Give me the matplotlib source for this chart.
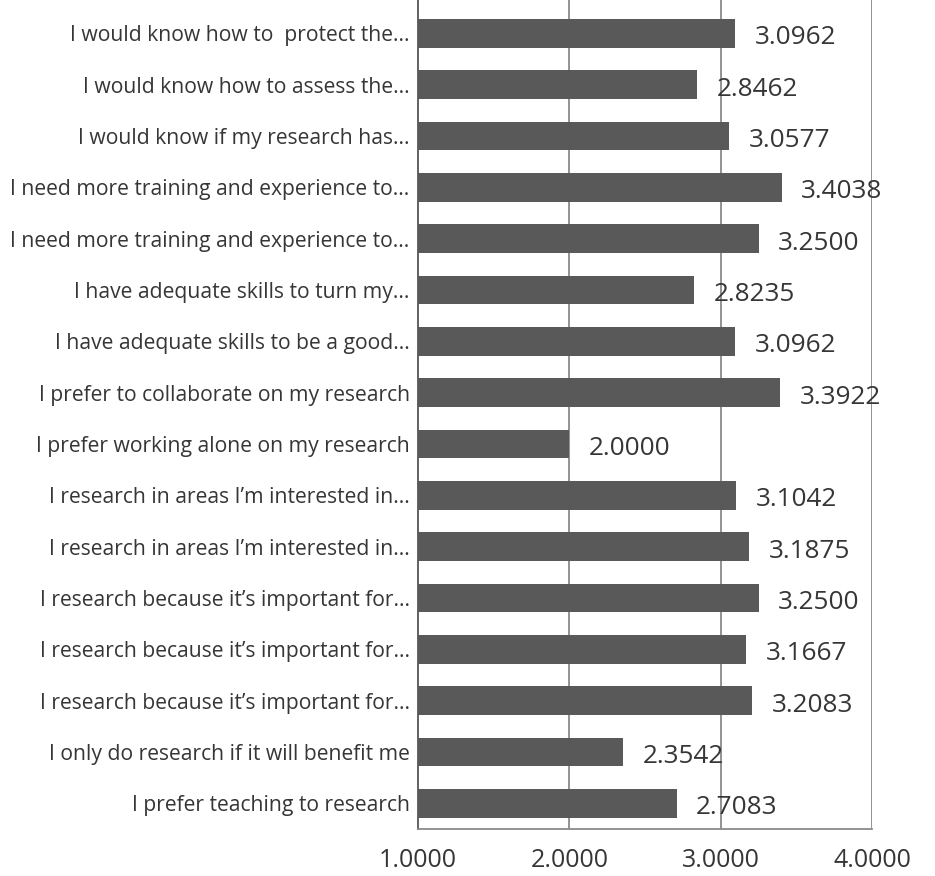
import matplotlib
matplotlib.use("Agg")
import matplotlib.pyplot as plt

categories = [
    "I would know how to  protect the...",
    "I would know how to assess the...",
    "I would know if my research has...",
    "I need more training and experience to...",
    "I need more training and experience to...",
    "I have adequate skills to turn my...",
    "I have adequate skills to be a good...",
    "I prefer to collaborate on my research",
    "I prefer working alone on my research",
    "I research in areas I\u2019m interested in...",
    "I research in areas I\u2019m interested in...",
    "I research because it\u2019s important for...",
    "I research because it\u2019s important for...",
    "I research because it\u2019s important for...",
    "I only do research if it will benefit me",
    "I prefer teaching to research",
]
values = [3.0962, 2.8462, 3.0577, 3.4038, 3.2500, 2.8235, 3.0962, 3.3922,
          2.0000, 3.1042, 3.1875, 3.2500, 3.1667, 3.2083, 2.3542, 2.7083]
x_ticks = [1.0, 2.0, 3.0, 4.0]

W, H = 935, 876
fig = plt.figure(figsize=(W / 100, H / 100), dpi=100)
ax = fig.add_axes([418 / W, 47 / H, (872 - 418) / W, 1 - 47 / H])

font = "Open Sans"
text_col = "#363636"
bar_col = "#595959"
grid_col = "#8a8a8a"

y = list(range(len(categories)))
ax.barh(y, [v - 1.0 for v in values], left=1.0, height=0.56,
        color=bar_col, zorder=3)

for yi, v in zip(y, values):
    ax.annotate(f"{v:.4f}", (v, yi), xytext=(14, -1), textcoords="offset points",
                va="center_baseline", ha="left", fontsize=18.8, family=font,
                color=text_col, zorder=4)

ax.set_xlim(1.0, 4.0)
ax.set_ylim(len(categories) - 0.5, -0.65)
ax.set_xticks(x_ticks)
ax.set_xticklabels([f"{t:.4f}" for t in x_ticks], fontsize=18, family=font,
                   color=text_col)
ax.set_yticks(y)
ax.set_yticklabels(categories, fontsize=15.2, family=font, color=text_col)
ax.tick_params(axis="both", length=0)
ax.tick_params(axis="x", pad=14)
ax.tick_params(axis="y", pad=6)

for g in x_ticks[1:]:
    ax.axvline(g, color=grid_col, lw=1.3, zorder=1)

ax.spines["top"].set_visible(False)
ax.spines["right"].set_visible(False)
ax.spines["left"].set_color("#555555")
ax.spines["left"].set_linewidth(1.3)
ax.spines["bottom"].set_color(grid_col)
ax.spines["bottom"].set_linewidth(1.3)

fig.savefig("out.png", dpi=100)
